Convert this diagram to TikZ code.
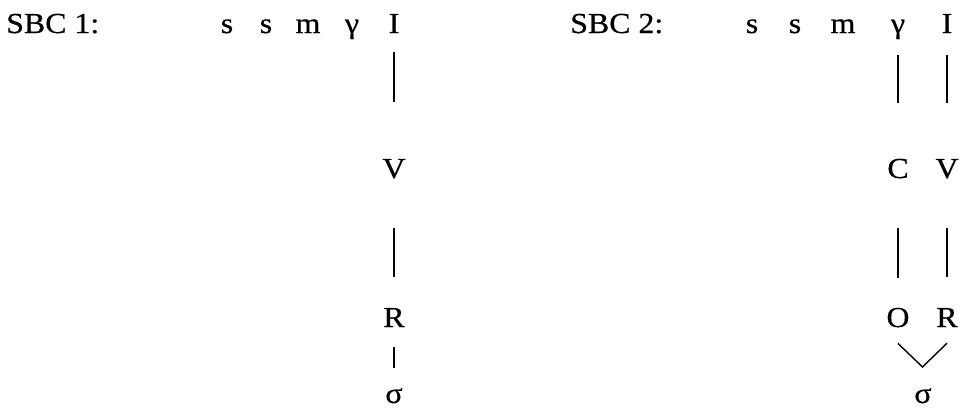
\documentclass[tikz,border=0pt]{standalone}
\usepackage{fontspec}
\setmainfont{Liberation Serif}[FakeStretch=1.1,FakeBold=0.6]
\begin{document}
\begin{tikzpicture}[x=1pt,y=-1pt,
  lab/.style={inner sep=0pt, anchor=base, font=\fontsize{29}{34}\selectfont},
  link/.style={line width=1.7pt}]
\useasboundingbox (0,0) rectangle (966,408);
% ---- SBC 1 ----
\node[lab, anchor=base west] (t1) at (6,33) {SBC 1:};
\node[lab] (a1) at (227,33) {s};
\node[lab] (a2) at (266,33) {s};
\node[lab] (a3) at (308,33) {m};
\node[lab] (a4) at (352,33) {γ};
\node[lab] (aI) at (394,33) {I};
\node[lab] (aV) at (394,178) {V};
\node[lab] (aR) at (394,327) {R};
\node[lab] (as) at (394,403) {σ};
\draw[link, shorten <=19pt, shorten >=57pt] (aI) -- (aV);
\draw[link, shorten <=49pt, shorten >=31pt] (aV) -- (aR);
\draw[link, shorten <=20pt, shorten >=20pt] (aR) -- (as);
% ---- SBC 2 ----
\node[lab, anchor=base west] (t2) at (570,33) {SBC 2:};
\node[lab] (b1) at (752,33) {s};
\node[lab] (b2) at (795,33) {s};
\node[lab] (b3) at (843,33) {m};
\node[lab] (bg) at (898,33) {γ};
\node[lab] (bI) at (947,33) {I};
\node[lab] (bC) at (898,178) {C};
\node[lab] (bV) at (947,178) {V};
\node[lab] (bO) at (898,327) {O};
\node[lab] (bR) at (947,327) {R};
\node[lab] (bs) at (923,403) {σ};
\coordinate (vtip) at (922.5,367);
\draw[link, shorten <=16pt, shorten >=56pt] (bg) -- (bC);
\draw[link, shorten <=22pt, shorten >=56pt] (bI) -- (bV);
\draw[link, shorten <=50pt, shorten >=30pt] (bC) -- (bO);
\draw[link, shorten <=49pt, shorten >=31pt] (bV) -- (bR);
\draw[link, line width=1.4pt] ([yshift=-16pt]bO.south) -- (vtip) -- ([yshift=-16pt]bR.south);
\end{tikzpicture}
\end{document}
